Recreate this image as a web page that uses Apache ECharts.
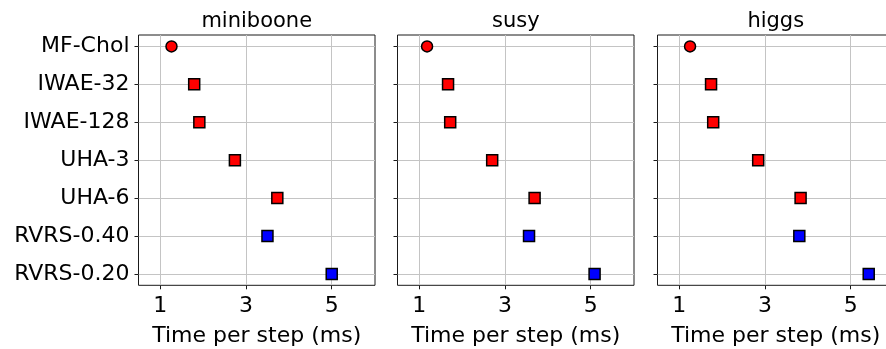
<!DOCTYPE html>
<html>
<head>
<meta charset="utf-8">
<script src="https://cdn.jsdelivr.net/npm/echarts@6/dist/echarts.min.js"></script>
<style>
html,body{margin:0;padding:0;background:#fff;}
#chart{width:886px;height:349px;}
</style>
</head>
<body>
<div id="chart"></div>
<script>
// ---- data ----
const methods = ['MF-Chol', 'IWAE-32', 'IWAE-128', 'UHA-3', 'UHA-6', 'RVRS-0.40', 'RVRS-0.20'];
const datasets = ['miniboone', 'susy', 'higgs'];
const miniboone = [1.26, 1.79, 1.91, 2.74, 3.73, 3.50, 5.00];
const susy      = [1.18, 1.67, 1.72, 2.70, 3.69, 3.56, 5.09];
const higgs     = [1.25, 1.74, 1.79, 2.84, 3.83, 3.80, 5.42];
const xTicks = [1, 3, 5];
const xLabelName = 'Time per step (ms)';

const values = [miniboone, susy, higgs];
const FONT = 'DejaVu Sans';
const FS = 22;
const lefts = [138.5, 397.5, 657.5];
const W = 236.5;
const TOP = 35, H = 250.3;
const yTicks = methods.map((m, i) => i);

const grids = [], xAxes = [], yAxes = [], series = [], titles = [];
datasets.forEach((name, p) => {
  grids.push({
    left: lefts[p], top: TOP, width: W, height: H,
    show: true, borderColor: '#1a1a1a', borderWidth: 1, backgroundColor: 'transparent',
    containLabel: false, outerBoundsMode: 'none'
  });
  xAxes.push({
    gridIndex: p, type: 'value', min: 0.49, max: 6.01, position: 'bottom',
    axisLine: {show: false, onZero: false},
    axisTick: {show: true, inside: false, length: 4, customValues: xTicks, lineStyle: {color: '#1a1a1a', width: 1}},
    axisLabel: {show: true, customValues: xTicks, margin: 10, color: '#000', fontFamily: FONT, fontSize: FS},
    splitLine: {show: true, lineStyle: {color: '#c4c4c4', width: 1}},
    name: xLabelName, nameLocation: 'middle', nameGap: 40,
    nameTextStyle: {color: '#000', fontFamily: FONT, fontSize: FS}
  });
  yAxes.push({
    gridIndex: p, type: 'value', min: -0.3, max: 6.3, inverse: true, position: 'left',
    axisLine: {show: false, onZero: false},
    axisTick: {show: true, inside: false, length: 4, customValues: yTicks, lineStyle: {color: '#1a1a1a', width: 1}},
    axisLabel: {show: p === 0, customValues: yTicks, margin: 9, color: '#000', fontFamily: FONT, fontSize: FS,
      formatter: v => methods[Math.round(v)] || ''},
    splitLine: {show: true, lineStyle: {color: '#c4c4c4', width: 1}}
  });
  const data = values[p].map((v, i) => {
    const isRvrs = methods[i].startsWith('RVRS');
    const isCircle = i === 0;
    return {
      value: [v, i],
      symbol: isCircle ? 'circle' : 'rect',
      symbolSize: 11,
      itemStyle: {color: isRvrs ? '#0000ff' : '#ff0000', borderColor: '#000', borderWidth: 1.5, opacity: 1}
    };
  });
  series.push({
    type: 'scatter', xAxisIndex: p, yAxisIndex: p, data: data,
    z: 5, emphasis: {disabled: true}, animation: false
  });
  titles.push({
    text: name, left: lefts[p] + W / 2, top: 11, textAlign: 'center', padding: 0,
    textStyle: {color: '#000', fontFamily: FONT, fontSize: 21, fontWeight: 'normal'}
  });
});

const chart = echarts.init(document.getElementById('chart'), null, {renderer: 'canvas'});
chart.setOption({
  animation: false,
  backgroundColor: '#fff',
  title: titles,
  grid: grids,
  xAxis: xAxes,
  yAxis: yAxes,
  series: series
});
</script>
</body>
</html>
